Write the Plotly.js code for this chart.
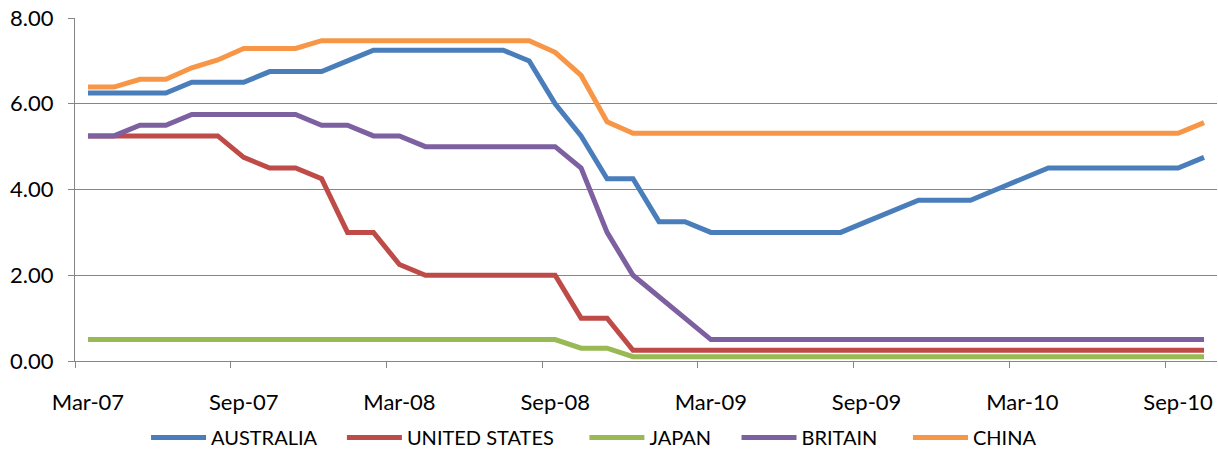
<!DOCTYPE html>
<html>
<head>
<meta charset="utf-8">
<script src="https://cdn.plot.ly/plotly-3.0.1.min.js"></script>
<style>
  html, body { margin: 0; padding: 0; background: #fff; }
  #chart { width: 1218px; height: 450px; }
</style>
</head>
<body>
<div id="chart"></div>
<script>
const months = [
  "Mar-07","Apr-07","May-07","Jun-07","Jul-07","Aug-07","Sep-07","Oct-07","Nov-07","Dec-07",
  "Jan-08","Feb-08","Mar-08","Apr-08","May-08","Jun-08","Jul-08","Aug-08","Sep-08","Oct-08","Nov-08","Dec-08",
  "Jan-09","Feb-09","Mar-09","Apr-09","May-09","Jun-09","Jul-09","Aug-09","Sep-09","Oct-09","Nov-09","Dec-09",
  "Jan-10","Feb-10","Mar-10","Apr-10","May-10","Jun-10","Jul-10","Aug-10","Sep-10","Oct-10"
];

const australia = [6.25,6.25,6.25,6.25,6.50,6.50,6.50,6.75,6.75,6.75,
  7.00,7.25,7.25,7.25,7.25,7.25,7.25,7.00,6.00,5.25,4.25,4.25,
  3.25,3.25,3.00,3.00,3.00,3.00,3.00,3.00,3.25,3.50,3.75,3.75,
  3.75,4.00,4.25,4.50,4.50,4.50,4.50,4.50,4.50,4.75];

const unitedStates = [5.25,5.25,5.25,5.25,5.25,5.25,4.75,4.50,4.50,4.25,
  3.00,3.00,2.25,2.00,2.00,2.00,2.00,2.00,2.00,1.00,1.00,0.25,
  0.25,0.25,0.25,0.25,0.25,0.25,0.25,0.25,0.25,0.25,0.25,0.25,
  0.25,0.25,0.25,0.25,0.25,0.25,0.25,0.25,0.25,0.25];

const japan = [0.50,0.50,0.50,0.50,0.50,0.50,0.50,0.50,0.50,0.50,
  0.50,0.50,0.50,0.50,0.50,0.50,0.50,0.50,0.50,0.30,0.30,0.10,
  0.10,0.10,0.10,0.10,0.10,0.10,0.10,0.10,0.10,0.10,0.10,0.10,
  0.10,0.10,0.10,0.10,0.10,0.10,0.10,0.10,0.10,0.10];

const britain = [5.25,5.25,5.50,5.50,5.75,5.75,5.75,5.75,5.75,5.50,
  5.50,5.25,5.25,5.00,5.00,5.00,5.00,5.00,5.00,4.50,3.00,2.00,
  1.50,1.00,0.50,0.50,0.50,0.50,0.50,0.50,0.50,0.50,0.50,0.50,
  0.50,0.50,0.50,0.50,0.50,0.50,0.50,0.50,0.50,0.50];

const china = [6.39,6.39,6.57,6.57,6.84,7.02,7.29,7.29,7.29,7.47,
  7.47,7.47,7.47,7.47,7.47,7.47,7.47,7.47,7.20,6.66,5.58,5.31,
  5.31,5.31,5.31,5.31,5.31,5.31,5.31,5.31,5.31,5.31,5.31,5.31,
  5.31,5.31,5.31,5.31,5.31,5.31,5.31,5.31,5.31,5.56];

const seriesNames = ["AUSTRALIA","UNITED STATES","JAPAN","BRITAIN","CHINA"];
const seriesValues = [australia, unitedStates, japan, britain, china];
const seriesColors = ["#4A7EBB","#BE4B48","#98B954","#7D60A0","#F79646"];
const yTicks = [0, 2, 4, 6, 8];

const FONT = "Lato, 'Open Sans', sans-serif";
const NB = "\u00A0";
const legendPad = [4, 5, 4, 5, 0];

const traces = seriesNames.map((name, k) => ({
  type: "scatter",
  mode: "lines",
  name: name + NB.repeat(legendPad[k]),
  x: months,
  y: seriesValues[k],
  line: { color: seriesColors[k], width: 5 },
  hoverinfo: "x+y+name"
}));

const layout = {
  width: 1218,
  height: 450,
  paper_bgcolor: "#ffffff",
  plot_bgcolor: "#ffffff",
  margin: { l: 75, r: 1, t: 18, b: 89 },
  font: { family: FONT, size: 22, color: "#000000" },
  showlegend: true,
  legend: {
    orientation: "h",
    xref: "container",
    yref: "container",
    x: 0.1199,
    xanchor: "left",
    y: 0.028,
    yanchor: "middle",
    font: { family: FONT, size: 20, color: "#000000" },
    itemwidth: 55,
    tracegroupgap: 0,
    bgcolor: "rgba(0,0,0,0)"
  },
  xaxis: {
    type: "category",
    range: [-0.5, months.length - 0.5],
    tickmode: "linear",
    tick0: 0,
    dtick: 6,
    tickson: "boundaries",
    tickangle: 0,
    ticks: "outside",
    ticklen: 6,
    tickwidth: 1,
    tickcolor: "#868686",
    ticklabelstandoff: 22,
    showgrid: false,
    showline: true,
    linecolor: "#868686",
    linewidth: 1,
    zeroline: false,
    fixedrange: true,
    tickfont: { family: FONT, size: 22, color: "#000000" }
  },
  yaxis: {
    range: [0, 8],
    tickmode: "array",
    tickvals: yTicks,
    ticktext: yTicks.map(v => v.toFixed(2)),
    ticks: "outside",
    ticklen: 6,
    tickwidth: 1,
    tickcolor: "#868686",
    ticklabelstandoff: 10,
    showgrid: true,
    gridcolor: "#868686",
    gridwidth: 1,
    showline: true,
    linecolor: "#868686",
    linewidth: 1,
    zeroline: false,
    fixedrange: true,
    tickfont: { family: FONT, size: 22, color: "#000000" }
  }
};

Plotly.newPlot("chart", traces, layout, { displayModeBar: false, staticPlot: true });
</script>
</body>
</html>
